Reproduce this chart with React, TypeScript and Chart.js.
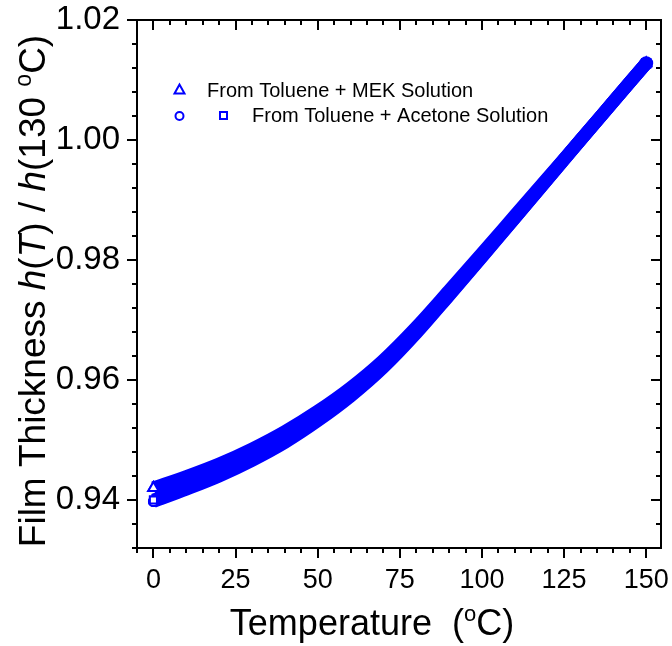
import React, { useEffect, useRef } from 'react';
import { Chart, registerables } from 'chart.js';

Chart.register(...registerables);

// ---- data ----
const temperatures = [0, 10, 20, 30, 40, 50, 60, 70, 80, 90, 100, 110, 120, 130, 140, 150];
const mekThickness = [0.942, 0.9439, 0.946, 0.9485, 0.9514, 0.9548, 0.9587, 0.9633, 0.9688, 0.9749, 0.9811, 0.9874, 0.9937, 1.0, 1.0064, 1.0128];
const acetoneCircleThickness = [0.93975, 0.9418, 0.944, 0.9466, 0.9496, 0.9532, 0.9573, 0.9621, 0.9678, 0.9741, 0.9805, 0.987, 0.9935, 1.0, 1.0064, 1.0128];
const acetoneSquareThickness = [0.94, 0.942, 0.9442, 0.9468, 0.9498, 0.9534, 0.9575, 0.9623, 0.968, 0.9742, 0.9806, 0.987, 0.9935, 1.0, 1.0064, 1.0128];

const xMajorTicks = [0, 25, 50, 75, 100, 125, 150];
const xTickLabels = ['0', '25', '50', '75', '100', '125', '150'];
const yMajorTicks = [0.94, 0.96, 0.98, 1.0, 1.02];
const yTickLabels = ['0.94', '0.96', '0.98', '1.00', '1.02'];
const legendLabels = ['From Toluene + MEK Solution', 'From Toluene + Acetone Solution'];

const BLUE = '#0000FF';
const FAMILY = '"Liberation Sans", Arial, Helvetica, sans-serif';

type Seg = { t: string; it?: boolean; sup?: boolean };

function segFont(s: Seg, size: number) {
  const sz = s.sup ? Math.round(size * 0.62) : size;
  return `${s.it ? 'italic ' : ''}${sz}px ${FAMILY}`;
}

function drawRich(ctx: CanvasRenderingContext2D, segs: Seg[], cx: number, baseline: number, size: number) {
  let total = 0;
  const widths = segs.map((s) => {
    ctx.font = segFont(s, size);
    const w = ctx.measureText(s.t).width;
    total += w;
    return w;
  });
  let x = cx - total / 2;
  ctx.textAlign = 'left';
  ctx.textBaseline = 'alphabetic';
  segs.forEach((s, i) => {
    ctx.font = segFont(s, size);
    ctx.fillText(s.t, x, s.sup ? baseline - size * 0.38 : baseline);
    x += widths[i];
  });
}

const isMajor = (list: number[], v: number) => list.some((m) => Math.abs(m - v) < 1e-6);
const onStep = (v: number, step: number) => Math.abs(v / step - Math.round(v / step)) < 1e-6;

const framePlugin = {
  id: 'framePlugin',
  afterDatasetsDraw(chart: any) {
    // redraw the first markers of each series on top of the bands
    [1, 2, 0].forEach((i) => {
      const meta = chart.getDatasetMeta(i);
      const el = meta && meta.data[0];
      if (el) el.draw(chart.ctx, chart.chartArea);
    });
  },
  afterDraw(chart: any) {
    const { ctx, chartArea: a, scales } = chart;
    const xs = scales.x;
    const ys = scales.y;
    ctx.save();
    ctx.strokeStyle = '#000';
    ctx.lineWidth = 2;
    ctx.lineCap = 'butt';
    const line = (x1: number, y1: number, x2: number, y2: number) => {
      ctx.beginPath();
      ctx.moveTo(x1, y1);
      ctx.lineTo(x2, y2);
      ctx.stroke();
    };
    ctx.strokeRect(a.left, a.top, a.right - a.left, a.bottom - a.top);
    xs.ticks.forEach((t: any) => {
      if (!onStep(t.value, 5)) return;
      const len = isMajor(xMajorTicks, t.value) ? 10 : 5;
      const px = Math.round(xs.getPixelForValue(t.value));
      line(px, a.bottom, px, a.bottom + len);
      line(px, a.top, px, a.top + len);
    });
    ys.ticks.forEach((t: any) => {
      const len = isMajor(yMajorTicks, t.value) ? 10 : 5;
      const py = Math.round(ys.getPixelForValue(t.value));
      line(a.left - len, py, a.left, py);
      line(a.right - len, py, a.right, py);
    });

    // axis titles
    ctx.fillStyle = '#000';
    drawRich(ctx, [{ t: 'Temperature  (' }, { t: 'o', sup: true }, { t: 'C)' }], 372, 635, 36);
    ctx.save();
    ctx.translate(45, 291);
    ctx.rotate(-Math.PI / 2);
    drawRich(
      ctx,
      [
        { t: 'Film Thickness ' },
        { t: 'h', it: true },
        { t: '(' },
        { t: 'T', it: true },
        { t: ') / ' },
        { t: 'h', it: true },
        { t: '(130 ' },
        { t: 'o', sup: true },
        { t: 'C)' },
      ],
      0,
      0,
      37
    );
    ctx.restore();

    // legend
    ctx.strokeStyle = BLUE;
    ctx.lineWidth = 2;
    ctx.beginPath();
    ctx.moveTo(179.5, 84.5);
    ctx.lineTo(174.5, 93.5);
    ctx.lineTo(184.5, 93.5);
    ctx.closePath();
    ctx.stroke();
    ctx.beginPath();
    ctx.arc(179.5, 116, 4, 0, Math.PI * 2);
    ctx.stroke();
    ctx.strokeRect(220, 112, 7, 7);
    ctx.fillStyle = '#000';
    ctx.font = `20px ${FAMILY}`;
    ctx.textAlign = 'left';
    ctx.textBaseline = 'alphabetic';
    ctx.fillText(legendLabels[0], 207, 97);
    ctx.fillText(legendLabels[1], 252, 122);
    ctx.restore();
  },
};

function makeSeries(label: string, values: number[], style: string, radius: number) {
  const last = values.length - 1;
  return {
    label,
    data: temperatures.map((t, i) => ({ x: t, y: values[i] })),
    borderColor: BLUE,
    borderWidth: 13,
    borderCapStyle: 'butt',
    borderJoinStyle: 'round',
    cubicInterpolationMode: 'monotone',
    fill: false,
    pointStyle: style,
    pointRadius: (c: any) => (c.dataIndex === 0 ? radius : c.dataIndex === last ? 6 : 0),
    pointHoverRadius: 0,
    pointBorderColor: BLUE,
    pointBackgroundColor: (c: any) => (c.dataIndex === 0 ? '#FFFFFF' : BLUE),
    pointBorderWidth: 2,
  };
}

export default function App() {
  const ref = useRef<HTMLCanvasElement | null>(null);
  useEffect(() => {
    if (!ref.current) return;
    const chart = new Chart(ref.current, {
      type: 'line',
      data: {
        datasets: [
          makeSeries('From Toluene + MEK Solution', mekThickness, 'triangle', 6),
          makeSeries('From Toluene + Acetone Solution (circles)', acetoneCircleThickness, 'circle', 4.5),
          makeSeries('From Toluene + Acetone Solution (squares)', acetoneSquareThickness, 'rect', 5),
        ] as any,
      },
      options: {
        responsive: false,
        animation: false,
        devicePixelRatio: 1,
        layout: { padding: { left: 0, right: 11, top: 20, bottom: 0 } },
        plugins: { legend: { display: false }, tooltip: { enabled: false } },
        events: [],
        scales: {
          x: {
            type: 'linear',
            min: -5,
            max: 154.5,
            afterFit: (s: any) => {
              s.height = 98;
              s.paddingLeft = 0;
              s.paddingRight = 0;
              s.paddingTop = 0;
              s.paddingBottom = 0;
            },
            grid: { display: false, drawTicks: false },
            border: { display: false },
            ticks: {
              stepSize: 5,
              includeBounds: false,
              autoSkip: false,
              maxRotation: 0,
              minRotation: 0,
              padding: 16,
              color: '#000',
              font: { family: FAMILY, size: 27 },
              callback: (v: any) => {
                const i = xMajorTicks.findIndex((m) => Math.abs(m - Number(v)) < 1e-6);
                return i >= 0 ? xTickLabels[i] : '';
              },
            },
          },
          y: {
            type: 'linear',
            min: 0.932,
            max: 1.02,
            afterFit: (s: any) => {
              s.width = 137;
              s.paddingLeft = 0;
              s.paddingRight = 0;
              s.paddingTop = 0;
              s.paddingBottom = 0;
            },
            grid: { display: false, drawTicks: false },
            border: { display: false },
            ticks: {
              stepSize: 0.004,
              autoSkip: false,
              padding: 17,
              color: '#000',
              font: { family: FAMILY, size: 33 },
              callback: (v: any) => {
                const i = yMajorTicks.findIndex((m) => Math.abs(m - Number(v)) < 1e-6);
                return i >= 0 ? yTickLabels[i] : '';
              },
            },
          },
        },
      } as any,
      plugins: [framePlugin],
    });
    return () => chart.destroy();
  }, []);
  return (
    <div style={{ position: 'absolute', left: 0, top: 0, width: 672, height: 646, background: '#fff' }}>
      <canvas ref={ref} width={672} height={646} style={{ display: 'block' }} />
    </div>
  );
}
